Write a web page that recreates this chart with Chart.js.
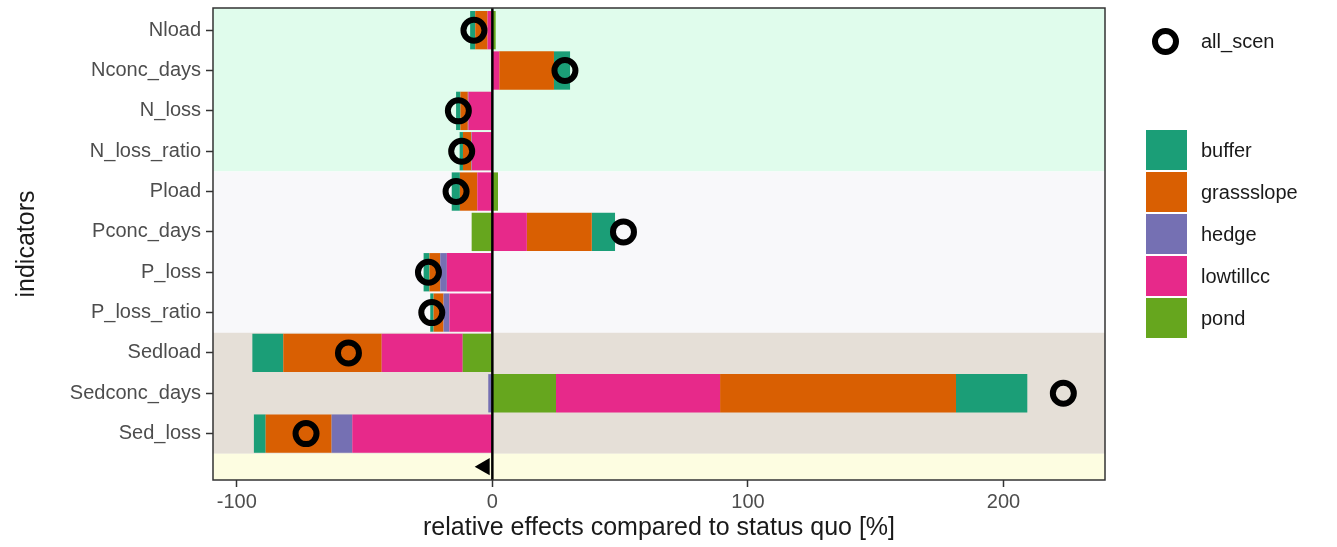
<!DOCTYPE html>
<html>
<head>
<meta charset="utf-8">
<script src="https://cdn.jsdelivr.net/npm/chart.js@4.4.1/dist/chart.umd.min.js"></script>
<style>
  body { margin: 0; background: #fff; font-family: "Liberation Sans", Arial, sans-serif; }
  #wrap { position: relative; width: 1337px; height: 547px; }
  #legend .ring { position: absolute; box-sizing: border-box; width: 27px; height: 27px; border: 6px solid #000; border-radius: 50%; }
  #legend .box { position: absolute; width: 41px; height: 40px; }
  #legend .txt { position: absolute; font-size: 20px; color: #1a1a1a; line-height: 24px; }
</style>
</head>
<body>
<div id="wrap">
  <canvas id="effectsChart" width="1337" height="547"></canvas>
  <div id="legend"></div>
</div>
<script>
// indicators, top to bottom
var indicators = ['Nload', 'Nconc_days', 'N_loss', 'N_loss_ratio', 'Pload', 'Pconc_days',
                  'P_loss', 'P_loss_ratio', 'Sedload', 'Sedconc_days', 'Sed_loss'];

// relative effects per measure [%]
var buffer     = [-2.0, 6.3, -1.7, -1.3, -3.2, 9.1, -2.3, -1.3, -12.1, 27.9, -4.6];
var grassslope = [-4.8, 21.4, -2.9, -3.3, -6.8, 25.4, -4.2, -3.9, -38.5, 92.3, -25.8];
var hedge      = [0, 0, -0.2, -0.2, 0, 0, -2.6, -2.3, 0, -1.6, -8.1];
var lowtillcc  = [-1.9, 2.7, -9.4, -8.0, -5.9, 13.5, -17.8, -16.8, -31.7, 64.2, -54.8];
var pond       = [1.3, 0, 0, 0, 2.2, -8.1, 0, 0, -11.6, 24.9, 0];
var allScen    = [-7.2, 28.4, -13.3, -12.0, -14.2, 51.3, -25.0, -23.7, -56.3, 223.4, -72.9];

var xTicks = [-100, 0, 100, 200];

// indicator groups shaded in the panel (N, P, Sed, rest)
var groupRanges = [[-1, 3.5], [3.5, 7.5], [7.5, 10.5], [10.5, 12]];
var groupColors = ['#e0fcec', '#f8f8fa', '#e5dfd7', '#fdfde1'];

var measures = [
  { label: 'buffer', values: buffer, color: '#1b9e77' },
  { label: 'grassslope', values: grassslope, color: '#d95f02' },
  { label: 'hedge', values: hedge, color: '#7570b3' },
  { label: 'lowtillcc', values: lowtillcc, color: '#e7298a' },
  { label: 'pond', values: pond, color: '#66a61e' }
];

function toPoints(vals) {
  return vals.map(function (v, i) { return { x: v, y: i }; });
}

var datasets = [
  {
    type: 'scatter', label: 'all_scen', stack: 'circles', order: 0,
    data: toPoints(allScen),
    pointStyle: 'circle', pointRadius: 10.5, borderWidth: 6,
    borderColor: '#000', backgroundColor: 'rgba(0,0,0,0)'
  },
  {
    type: 'scatter', label: '', stack: 'marker', order: 0,
    data: [{ x: -3, y: 10.82 }],
    pointStyle: 'triangle', rotation: -90, pointRadius: 10,
    borderWidth: 0, backgroundColor: '#000'
  }
];
// stack from zero outwards: pond, lowtillcc, hedge, grassslope, buffer
measures.slice().reverse().forEach(function (m) {
  datasets.push({
    type: 'bar', label: m.label, order: 1,
    data: toPoints(m.values),
    backgroundColor: m.color, borderWidth: 0,
    categoryPercentage: 1, barPercentage: 0.95
  });
});

var panelPlugin = {
  id: 'panel',
  beforeDatasetsDraw: function (chart) {
    var ctx = chart.ctx, area = chart.chartArea, y = chart.scales.y;
    ctx.save();
    ctx.beginPath();
    ctx.rect(area.left, area.top, area.right - area.left, area.bottom - area.top);
    ctx.clip();
    for (var i = 0; i < groupRanges.length; i++) {
      var a = y.getPixelForValue(groupRanges[i][0]);
      var b = y.getPixelForValue(groupRanges[i][1]);
      ctx.fillStyle = groupColors[i];
      ctx.fillRect(area.left, Math.min(a, b), area.right - area.left, Math.abs(b - a));
    }
    ctx.restore();
  },
  beforeDatasetDraw: function (chart, args) {
    if (args.index !== 1) return;
    var ctx = chart.ctx, area = chart.chartArea;
    var x0 = chart.scales.x.getPixelForValue(0);
    ctx.save();
    ctx.strokeStyle = '#000';
    ctx.lineWidth = 2.5;
    ctx.beginPath();
    ctx.moveTo(x0, area.top);
    ctx.lineTo(x0, area.bottom);
    ctx.stroke();
    ctx.restore();
  },
  afterDraw: function (chart) {
    var ctx = chart.ctx, area = chart.chartArea;
    ctx.save();
    ctx.strokeStyle = '#333';
    ctx.lineWidth = 1.5;
    ctx.strokeRect(area.left, area.top, area.right - area.left, area.bottom - area.top);
    ctx.restore();
  }
};

var tickFont = { family: '"Liberation Sans", Arial, sans-serif', size: 20 };
var titleFont = { family: '"Liberation Sans", Arial, sans-serif', size: 25 };

new Chart(document.getElementById('effectsChart'), {
  type: 'bar',
  data: { datasets: datasets },
  options: {
    indexAxis: 'y',
    responsive: false,
    animation: false,
    events: [],
    layout: { autoPadding: false, padding: { left: 0, right: 232, top: 8, bottom: 0 } },
    plugins: { legend: { display: false }, tooltip: { enabled: false } },
    scales: {
      x: {
        type: 'linear', stacked: true,
        min: -109.3, max: 239.7,
        afterBuildTicks: function (axis) {
          axis.ticks = xTicks.map(function (v) { return { value: v }; });
        },
        afterFit: function (axis) { axis.height = 67; axis.paddingLeft = 0; axis.paddingRight = 0; },
        ticks: { font: tickFont, color: '#4d4d4d', padding: 3 },
        grid: { drawOnChartArea: false, tickLength: 7, tickColor: '#333', tickWidth: 1.5 },
        border: { display: false },
        title: {
          display: true, text: 'relative effects compared to status quo [%]',
          font: titleFont, color: '#1a1a1a', padding: { top: 0, bottom: 4 }
        }
      },
      y: {
        type: 'linear', stacked: true, reverse: true, offset: false,
        min: -0.55, max: 11.15,
        afterBuildTicks: function (axis) {
          axis.ticks = indicators.map(function (_, i) { return { value: i }; });
        },
        afterFit: function (axis) { axis.width = 213; axis.paddingTop = 0; axis.paddingBottom = 0; },
        ticks: {
          font: tickFont, color: '#4d4d4d', padding: 5,
          callback: function (value) { return indicators[value]; }
        },
        grid: { drawOnChartArea: false, offset: false, tickLength: 7, tickColor: '#333', tickWidth: 1.5 },
        border: { display: false },
        title: {
          display: true, text: 'indicators',
          font: titleFont, color: '#1a1a1a', padding: { top: 12, bottom: 0 }
        }
      }
    }
  },
  plugins: [panelPlugin]
});

// legend: all_scen ring, then the measure boxes
var legend = document.getElementById('legend');
function addEl(cls, left, top, text, color) {
  var el = document.createElement('div');
  el.className = cls;
  el.style.left = left + 'px';
  el.style.top = top + 'px';
  if (text) el.textContent = text;
  if (color) el.style.background = color;
  legend.appendChild(el);
}
addEl('ring', 1152, 28);
addEl('txt', 1201, 29, 'all_scen');
measures.forEach(function (m, i) {
  var top = 130 + i * 42;
  addEl('box', 1146, top, null, m.color);
  addEl('txt', 1201, top + 8, m.label);
});
</script>
</body>
</html>
